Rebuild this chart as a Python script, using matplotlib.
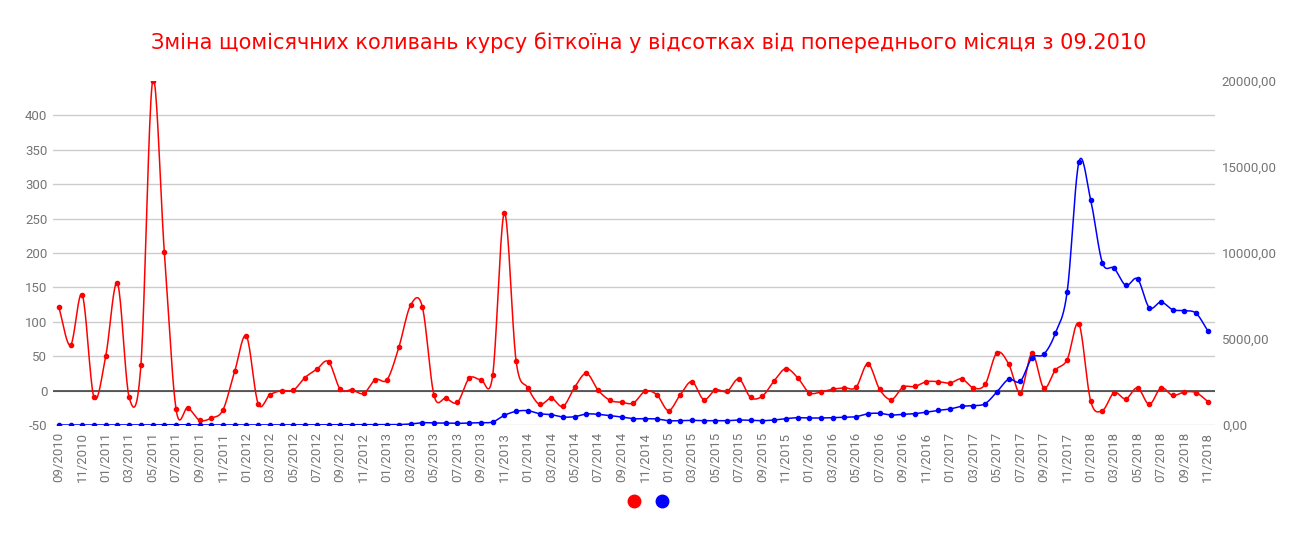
import numpy as np
import matplotlib
matplotlib.use("Agg")
import matplotlib.pyplot as plt
from matplotlib.lines import Line2D

# місяці 09/2010 .. 11/2018
months = []
y, m = 2010, 9
while (y, m) <= (2018, 11):
    months.append(f"{m:02d}/{y}")
    m += 1
    if m > 12:
        m, y = 1, y + 1

# зміна курсу у % від попереднього місяця (ліва вісь)
change_pct = [
    121, 66, 139, -10, 50, 156, -10, 37, 450, 201,
    -27, -25, -43, -40, -28, 28, 79, -19, -6, 0,
    0.5, 19, 31, 42, 2, 1, -4, 16, 16, 63,
    124, 122, -7, -11, -17, 18, 16, 22, 258, 43,
    4, -20, -11, -23, 5, 25, 0.5, -14, -17, -18,
    -1, -6, -29, -6, 13, -13, 1, -1, 17, -10,
    -8, 14, 32, 19, -3, -2, 2, 4, 5, 39,
    2, -13, 5, 6, 13, 13, 11, 17, 4, 9,
    55, 39, -3, 54, 4, 30, 45, 97, -15, -29,
    -3, -12, 4, -20, 4, -7, -2, -3, -16,
]

# курс біткоїна, USD (права вісь)
price_usd = [
    0.06, 0.1, 0.25, 0.25, 0.3, 0.9, 0.85, 1.1, 6, 18,
    14, 10, 5, 3, 3, 4, 6, 5, 5, 5,
    5, 6, 8, 11, 12, 12, 11, 13, 15, 25,
    60, 136, 116, 116, 97, 116, 136, 174, 562, 795,
    833, 659, 600, 465, 485, 640, 620, 543, 465, 368,
    368, 349, 252, 252, 271, 252, 252, 252, 291, 271,
    252, 291, 368, 426, 407, 407, 426, 446, 485, 659,
    678, 581, 620, 659, 756, 853, 930, 1085, 1124, 1240,
    1919, 2655, 2539, 3915, 4109, 5349, 7752, 15290, 13101, 9438,
    9109, 8120, 8488, 6822, 7151, 6705, 6647, 6492, 5465,
]

title = "Зміна щомісячних коливань курсу біткоїна у відсотках від попереднього місяця з 09.2010"
left_ticks = [-50, 0, 50, 100, 150, 200, 250, 300, 350, 400]
right_ticks = [0, 5000, 10000, 15000, 20000]
grey = "#757575"


def catmull_rom(xs, ys, n=20):
    # згладжена крива через точки, як curveType: 'function'
    xs = np.asarray(xs, float)
    ys = np.asarray(ys, float)
    px = np.concatenate([[2 * xs[0] - xs[1]], xs, [2 * xs[-1] - xs[-2]]])
    py = np.concatenate([[2 * ys[0] - ys[1]], ys, [2 * ys[-1] - ys[-2]]])
    t = np.linspace(0, 1, n, endpoint=False)
    out_x, out_y = [], []
    for i in range(1, len(px) - 2):
        for p, out in ((px, out_x), (py, out_y)):
            p0, p1, p2, p3 = p[i - 1], p[i], p[i + 1], p[i + 2]
            out.append(0.5 * (2 * p1 + (-p0 + p2) * t
                              + (2 * p0 - 5 * p1 + 4 * p2 - p3) * t ** 2
                              + (-p0 + 3 * p1 - 3 * p2 + p3) * t ** 3))
    out_x.append([xs[-1]])
    out_y.append([ys[-1]])
    return np.concatenate(out_x), np.concatenate(out_y)


x = np.arange(len(months))

fig = plt.figure(figsize=(12.98, 5.35), dpi=100)
ax = fig.add_axes([0.0408, 0.2056, 0.8952, 0.643])
ax2 = ax.twinx()

sx, sy = catmull_rom(x, change_pct)
ax.plot(sx, sy, color="red", lw=1.1, zorder=4)
ax.plot(x, change_pct, "o", color="red", ms=3, zorder=5)

bx, by = catmull_rom(x, price_usd)
ax2.plot(bx, by, color="blue", lw=1.1, zorder=4)
ax2.plot(x, price_usd, "o", color="blue", ms=3, zorder=5)

ax.set_xlim(-0.5, len(months) - 0.4)
ax.set_ylim(-50, 450)
ax2.set_ylim(0, 20000)

ax.set_yticks(left_ticks)
ax.set_yticklabels([str(v) for v in left_ticks])
ax2.set_yticks(right_ticks)
ax2.set_yticklabels([f"{v},00" for v in right_ticks])

ax.set_xticks(x[::2])
ax.set_xticklabels(months[::2], rotation=90)

for v in left_ticks:
    ax.axhline(v, color="#cccccc", lw=1, zorder=0)
ax.axhline(0, color="#333333", lw=1.1, zorder=1)

for a in (ax, ax2):
    for s in a.spines.values():
        s.set_visible(False)
    a.tick_params(length=0, colors=grey, labelsize=9.5)
    for lab in a.get_xticklabels() + a.get_yticklabels():
        lab.set_fontfamily("Roboto")
ax.tick_params(axis="x", pad=5)
ax.tick_params(axis="y", pad=4)
ax2.tick_params(axis="y", pad=5)
ax2.set_zorder(ax.get_zorder() + 1)
ax2.patch.set_visible(False)

fig.text(0.5, 0.92, title, ha="center", va="center", color="red",
         fontsize=15, family="DejaVu Sans")

handles = [Line2D([], [], ls="", marker="o", color=c, ms=9) for c in ("red", "blue")]
fig.legend(handles, ["", ""], loc="center", bbox_to_anchor=(0.499, 0.062),
           ncol=2, frameon=False, handletextpad=0, columnspacing=1.0,
           handlelength=1.0)

fig.savefig("out.png", dpi=100)
